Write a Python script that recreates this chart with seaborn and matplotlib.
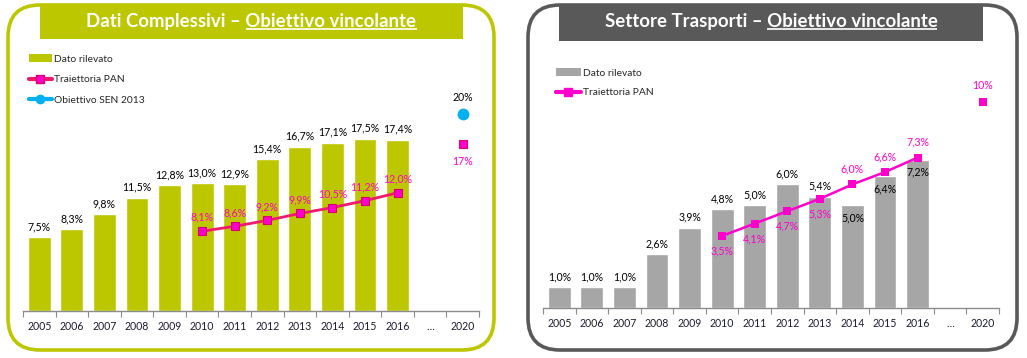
import matplotlib
matplotlib.use("Agg")
import matplotlib.pyplot as plt
import seaborn as sns
import numpy as np
from matplotlib.patches import FancyBboxPatch, Rectangle, Patch
from matplotlib.lines import Line2D

# ---------------- data ----------------
cats = ['2005', '2006', '2007', '2008', '2009', '2010', '2011', '2012',
        '2013', '2014', '2015', '2016', '…', '2020']
obs_years = ['2005', '2006', '2007', '2008', '2009', '2010', '2011', '2012',
             '2013', '2014', '2015', '2016']
pan_years = ['2010', '2011', '2012', '2013', '2014', '2015', '2016']
target_year = ['2020']

tot_obs = [7.5, 8.3, 9.8, 11.5, 12.8, 13.0, 12.9, 15.4, 16.7, 17.1, 17.5, 17.4]
tot_pan = [8.1, 8.6, 9.2, 9.9, 10.5, 11.2, 12.0]
tot_pan_2020 = [17]
tot_sen_2020 = [20]

tra_obs = [1.0, 1.0, 1.0, 2.6, 3.9, 4.8, 5.0, 6.0, 5.4, 5.0, 6.4, 7.2]
tra_pan = [3.5, 4.1, 4.7, 5.3, 6.0, 6.6, 7.3]
tra_pan_2020 = [10]

title_left = ("Dati Complessivi – ", "Obiettivo vincolante")
title_right = ("Settore Trasporti – ", "Obiettivo vincolante")
leg_left = ["Dato rilevato", "Traiettoria PAN", "Obiettivo SEN 2013"]
leg_right = ["Dato rilevato", "Traiettoria PAN"]

# label placement styles for the transport panel (above / below)
tra_obs_pos = ['a'] * 9 + ['b', 'b', 'b']
tra_pan_pos = ['b', 'b', 'b', 'b', 'a', 'a', 'a']

# ---------------- style ----------------
sns.set_theme(style="white")
plt.rcParams['font.family'] = ['Lato', 'DejaVu Sans']

OLIVE = '#BDC700'
DGRAY = '#595959'
BGRAY = '#A6A6A6'
PINK_LINE = '#EE1A6E'
MAGENTA = '#FF00CC'
CYAN = '#00B0F0'
TICKC = '#1c1c30'
FS = 7.6


def fmt(v, dec=1):
    return (f"{v:.{dec}f}%").replace('.', ',')


W, H = 1027, 358
fig = plt.figure(figsize=(W / 100, H / 100), dpi=100)
fig.patch.set_facecolor('white')

bg = fig.add_axes([0, 0, 1, 1])
bg.set_xlim(0, W)
bg.set_ylim(H, 0)
bg.axis('off')

# frames
bg.add_patch(FancyBboxPatch((8, 5), 486, 345,
                            boxstyle='round,pad=0,rounding_size=32',
                            fill=False, ec=OLIVE, lw=2.6))
bg.add_patch(Rectangle((40, 4), 423, 35, fc=OLIVE, ec='none'))
bg.add_patch(FancyBboxPatch((528, 5), 489, 345,
                            boxstyle='round,pad=0,rounding_size=32',
                            fill=False, ec=DGRAY, lw=2.6))
bg.add_patch(Rectangle((559, 4), 424, 37, fc=DGRAY, ec='none'))

fig.canvas.draw()
renderer = fig.canvas.get_renderer()


def title(parts, cx, cy, target_w):
    full = parts[0] + parts[1]
    t = bg.text(cx, cy, full, ha='center', va='center', color='white',
                fontsize=12, fontweight='bold')
    w = t.get_window_extent(renderer).width
    size = 12 * target_w / w
    t.set_fontsize(size)
    bb = t.get_window_extent(renderer)
    t2 = bg.text(0, 0, parts[1], fontsize=size, fontweight='bold')
    w2 = t2.get_window_extent(renderer).width
    t2.remove()
    inv = bg.transData.inverted()
    x0 = bb.x1 - w2
    (xa, _), = inv.transform([(x0, 0)])
    (xb, _), = inv.transform([(bb.x1, 0)])
    (_, yb), = inv.transform([(0, bb.y0)])
    bg.plot([xa, xb], [yb - 1.5, yb - 1.5], color='white', lw=1.2,
            solid_capstyle='butt')


title(title_left, 251.5, 22, 328)
title(title_right, 771, 22, 330)


def setup_axis(ax, ymax):
    ax.set_facecolor('none')
    ax.set_xlim(-0.5, len(cats) - 0.5)
    ax.set_ylim(0, ymax)
    for s in ['left', 'right', 'top']:
        ax.spines[s].set_visible(False)
    ax.spines['bottom'].set_color('#8c8c8c')
    ax.spines['bottom'].set_linewidth(1.0)
    ax.set_yticks([])
    ax.set_xticks(range(len(cats)))
    ax.set_xticklabels(cats, fontsize=FS, color=TICKC)
    ax.set_xticks(np.arange(-0.5, len(cats), 1.0), minor=True)
    ax.tick_params(axis='x', which='major', length=0, pad=7)
    ax.tick_params(axis='x', which='minor', length=4, width=0.8,
                   color='#8c8c8c', direction='out', bottom=True)
    ax.set_xlabel('')
    ax.set_ylabel('')


def lab(ax, year, v, off, color, dec=1, va=None):
    if va is None:
        va = 'bottom' if off > 0 else 'top'
    ax.annotate(fmt(v, dec), xy=(cats.index(year), v), xytext=(0, off),
                textcoords='offset points', ha='center', va=va,
                fontsize=FS, color=color)


# ---------------- left panel ----------------
axL = fig.add_axes([23 / W, (H - 311) / H, 456 / W, (311 - 45) / H])
sns.barplot(x=obs_years, y=tot_obs, order=cats, color=OLIVE, saturation=1,
            width=0.7, ax=axL, errorbar=None)
sns.pointplot(x=pan_years, y=tot_pan, order=cats, color=PINK_LINE,
              marker='s', markersize=5.5, linewidth=2.0,
              markerfacecolor=MAGENTA, markeredgecolor='#D8006A',
              markeredgewidth=0.8, errorbar=None, ax=axL)
sns.pointplot(x=target_year, y=tot_pan_2020, order=cats, color=MAGENTA,
              marker='s', markersize=5.5, linestyle='none',
              markeredgecolor='#D8006A', markeredgewidth=0.8,
              errorbar=None, ax=axL)
sns.pointplot(x=target_year, y=tot_sen_2020, order=cats, color=CYAN,
              marker='o', markersize=8.5, linestyle='none',
              markeredgewidth=0, errorbar=None, ax=axL)
setup_axis(axL, 266 / 9.85)

for y, v in zip(obs_years, tot_obs):
    lab(axL, y, v, 3.5, 'black')
for y, v in zip(pan_years, tot_pan):
    lab(axL, y, v, 6, MAGENTA)
lab(axL, '2020', tot_pan_2020[0], -9, MAGENTA, dec=0)
lab(axL, '2020', tot_sen_2020[0], 8, 'black', dec=0)

hL = [Patch(facecolor=OLIVE, edgecolor='none'),
      Line2D([], [], color=PINK_LINE, lw=3, marker='s', markersize=6,
             markerfacecolor=MAGENTA, markeredgecolor='#D8006A'),
      Line2D([], [], color=CYAN, lw=3, marker='o', markersize=6,
             markerfacecolor=CYAN, markeredgecolor=CYAN)]
fig.legend(hL, leg_left, loc='upper left', bbox_to_anchor=(29 / W, 1 - 54 / H),
           frameon=False, fontsize=7.4, handlelength=2.2, handleheight=0.8,
           handletextpad=0.25, labelspacing=1.1, borderpad=0,
           borderaxespad=0)

# ---------------- right panel ----------------
axR = fig.add_axes([543 / W, (H - 308) / H, 456 / W, (308 - 45) / H])
sns.barplot(x=obs_years, y=tra_obs, order=cats, color=BGRAY, saturation=1,
            width=0.7, ax=axR, errorbar=None)
sns.pointplot(x=pan_years, y=tra_pan, order=cats, color=MAGENTA,
              marker='s', markersize=6, linewidth=1.8,
              markeredgewidth=0, errorbar=None, ax=axR)
sns.pointplot(x=target_year, y=tra_pan_2020, order=cats, color=MAGENTA,
              marker='s', markersize=6, linestyle='none',
              markeredgewidth=0, errorbar=None, ax=axR)
setup_axis(axR, 263 / 20.6)

for y, v, p in zip(obs_years, tra_obs, tra_obs_pos):
    lab(axR, y, v, 3.5 if p == 'a' else -5, 'black')
for y, v, p in zip(pan_years, tra_pan, tra_pan_pos):
    lab(axR, y, v, 7 if p == 'a' else -7, MAGENTA)
lab(axR, '2020', tra_pan_2020[0], 8, MAGENTA, dec=0)

hR = [Patch(facecolor=BGRAY, edgecolor='none'),
      Line2D([], [], color=MAGENTA, lw=3, marker='s', markersize=6,
             markerfacecolor=MAGENTA, markeredgecolor=MAGENTA)]
fig.legend(hR, leg_right, loc='upper left', bbox_to_anchor=(556 / W, 1 - 68 / H),
           frameon=False, fontsize=7.4, handlelength=2.4, handleheight=0.8,
           handletextpad=0.25, labelspacing=1.0, borderpad=0,
           borderaxespad=0)

fig.savefig('out.png', dpi=100, facecolor='white')
